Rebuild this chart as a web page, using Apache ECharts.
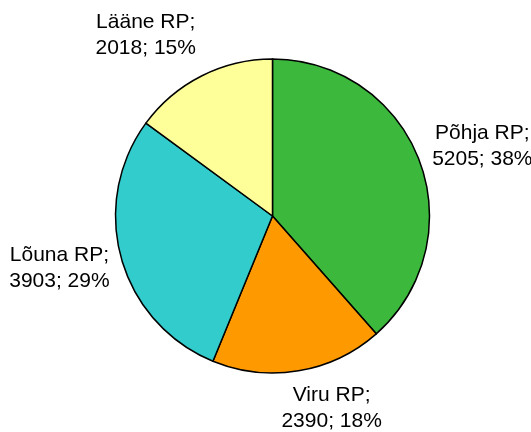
<!DOCTYPE html>
<html><head><meta charset="utf-8">
<script src="https://cdn.jsdelivr.net/npm/echarts@6/dist/echarts.min.js"></script>
<style>html,body{margin:0;padding:0;background:#fff}#c{width:531px;height:432px}</style>
</head><body><div id="c"></div>
<script>
const categories = ['Põhja RP', 'Viru RP', 'Lõuna RP', 'Lääne RP'];
const values = [5205, 2390, 3903, 2018];
const percents = [38, 18, 29, 15];
const colors = ['#3cb93c', '#ff9900', '#33cccc', '#ffff99'];

// layout settings
const CX = 272.5, CY = 216, R = 157, GAP = 9;
const nudges = [[2, 9], [26, -5], [0, -8], [-31, 8]];

const total = values.reduce((a, b) => a + b, 0);
const midAngles = [];
let acc = 0;
values.forEach(v => { midAngles.push((acc + v / 2) / total * 2 * Math.PI); acc += v; });

const chart = echarts.init(document.getElementById('c'), null, {renderer: 'canvas'});
chart.setOption({
  animation: false,
  series: [{
    type: 'pie',
    center: [CX, CY],
    radius: R,
    startAngle: 90,
    clockwise: true,
    avoidLabelOverlap: false,
    data: categories.map((n, i) => ({name: n, value: values[i], itemStyle: {color: colors[i]}})),
    itemStyle: {borderColor: '#000', borderWidth: 1.5},
    emphasis: {disabled: true},
    label: {
      show: true,
      position: 'inside',
      overflow: 'none',
      formatter: p => p.name + ';\n' + p.value + '; ' + percents[p.dataIndex] + '%',
      fontFamily: 'Liberation Sans, Arial, sans-serif',
      fontSize: 21,
      lineHeight: 26,
      color: '#000',
      align: 'center'
    },
    labelLine: {show: false},
    labelLayout: function (params) {
      const i = params.dataIndex;
      const a = midAngles[i];
      const sx = Math.sin(a), sy = -Math.cos(a);
      const w = params.labelRect.width / 2, h = params.labelRect.height / 2;
      const d = R + GAP + w * Math.abs(sx) + h * Math.abs(sy);
      return {
        x: CX + d * sx + nudges[i][0],
        y: CY + d * sy + nudges[i][1],
        align: 'center',
        verticalAlign: 'middle'
      };
    }
  }]
});
</script></body></html>
